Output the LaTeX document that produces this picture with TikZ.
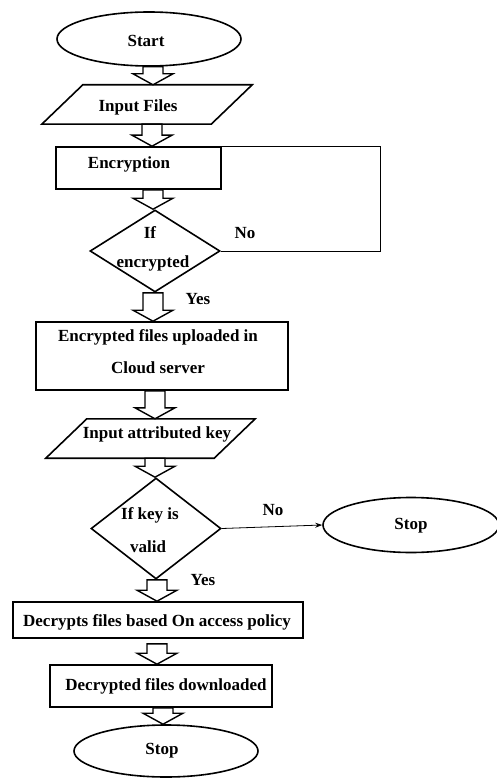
\documentclass[tikz,border=0pt]{standalone}
\usepackage{fontspec}
\setmainfont{Liberation Serif}
\usetikzlibrary{shapes.geometric,arrows.meta,calc}
\tikzset{
 base/.style={draw, line width=1.6pt, inner sep=0pt},
 term/.style={base, ellipse},
 box/.style={base, rectangle},
 iobox/.style={inner sep=0pt, rectangle},
 dec/.style={base, diamond},
 txt/.style={font=\fontsize{17}{32}\selectfont\bfseries, inner sep=0pt, align=center},
 fatarrow/.style={draw, line width=1.4pt, fill=white, line join=miter},
 thinline/.style={draw, line width=0.8pt},
}
\newcommand{\fatarr}[3]{%
 \draw[fatarrow] let \p1=(#1), \p2=(#2), \p3=($(#2)+(#3,0)$) in
 (\x3-10pt,\y1) -- (\x3+10pt,\y1) -- (\x3+10pt,\y2+11pt) -- (\x3+20pt,\y2+11pt)
 -- (\x3,\y2) -- (\x3-20pt,\y2+11pt) -- (\x3-10pt,\y2+11pt) -- cycle;}
\newcommand{\para}[1]{%
 \draw[base] ($(#1.north west)+(41,0)$) -- (#1.north east) -- ($(#1.south east)+(-41,0)$) -- (#1.south west) -- cycle;}
\begin{document}
\begin{tikzpicture}[x=1pt,y=-1pt]
\useasboundingbox (0,0) rectangle (496,778);
% shapes
\node[term, minimum width=184pt, minimum height=54pt] (start) at (149,39) {};
\node[txt] (startT) at (146,41) {Start};
\node[iobox, minimum width=210pt, minimum height=39pt] (inp) at (147,104.5) {};
\para{inp}
\node[txt] (inpT) at (138,107) {Input Files};
\node[box, minimum width=165pt, minimum height=42pt] (enc) at (138.5,168) {};
\node[txt] (encT) at (129,164) {Encryption};
\node[dec, minimum width=130pt, minimum height=82pt] (d1) at (155,251) {};
\node[txt] (d1a) at (150,233) {If};
\node[txt] (d1b) at (153,263) {encrypted};
\node[txt] (no1) at (245,233) {No};
\node[txt] (yes1) at (198,299) {Yes};
\node[box, minimum width=252pt, minimum height=68pt] (r2) at (162,356) {};
\node[txt] (r2T) at (158,352) {Encrypted files uploaded in\\Cloud server};
\node[iobox, minimum width=209pt, minimum height=39pt] (p2) at (150.5,438.5) {};
\para{p2}
\node[txt] (p2T) at (157,434) {Input attributed key};
\node[dec, minimum width=130pt, minimum height=101pt] (d2) at (156,528.5) {};
\node[txt] (d2a) at (150,515) {If key is};
\node[txt] (d2b) at (148,547) {valid};
\node[txt] (no2) at (273,510) {No};
\node[term, minimum width=176pt, minimum height=55pt] (stop2) at (411,525) {};
\node[txt] (stop2T) at (411,526) {Stop};
\node[txt] (yes2) at (203,580) {Yes};
\node[box, minimum width=290pt, minimum height=36pt] (r3) at (158,620) {};
\node[txt] (r3T) at (157,622) {Decrypts files based On access policy};
\node[box, minimum width=222pt, minimum height=42pt] (r4) at (161,686) {};
\node[txt] (r4T) at (166,686) {Decrypted files downloaded};
\node[term, minimum width=184pt, minimum height=52pt] (stop) at (166,751) {};
\node[txt] (stopT) at (162,751) {Stop};
% block arrows
\fatarr{start.south}{inp.north}{6}
\fatarr{inp.south}{enc.north}{13.5}
\fatarr{enc.south}{d1.north}{-2}
\fatarr{d1.south}{r2.north}{-9}
\fatarr{r2.south}{p2.north}{4.5}
\fatarr{p2.south}{d2.north}{-1}
\fatarr{d2.south}{r3.north}{-1}
\fatarr{$(r3.south)+(0,5)$}{r4.north}{-4}
\fatarr{r4.south}{stop.north}{-3}
% feedback and thin connector
\coordinate (fb) at (380,146);
\draw[thinline] (d1.east) -| (fb |- enc.north) -- ($(enc.north)+(25,0)$);
\draw[thinline, -{Stealth[length=7pt,width=5pt]}] (d2.east) -- (stop2.west);
\end{tikzpicture}
\end{document}
